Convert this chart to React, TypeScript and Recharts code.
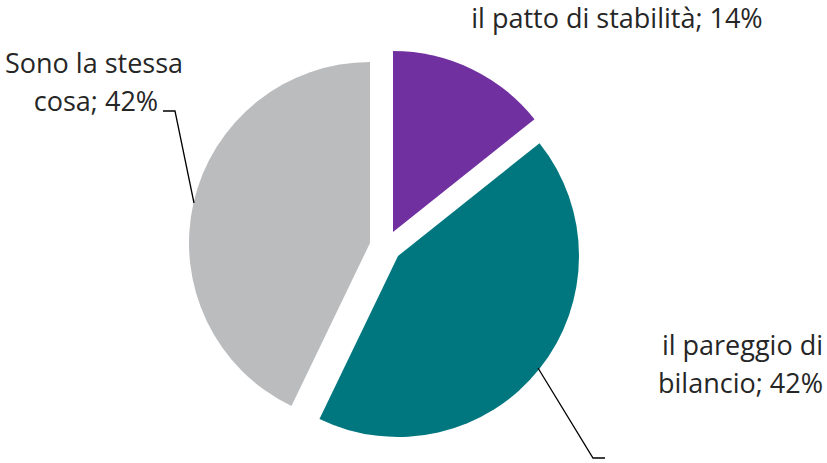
import { PieChart, Pie, Cell } from 'recharts';

const NAMES = ['il patto di stabilità', 'il pareggio di bilancio', 'Sono la stessa cosa'];
const VALUES = [14, 42, 42];
const COLORS = ['#7030a0', '#00777f', '#bbbcbe'];

// each slice is pulled out of the pie on its own
const CENTERS = [
  [393, 232],
  [398, 256],
  [370, 243],
];
const RADIUS = 181;

const data = NAMES.map((name, i) => ({ name, value: VALUES[i] }));

const textStyle = {
  fontFamily: '"Open Sans", sans-serif',
  fontSize: 27,
  fill: '#262626',
};

function renderLabel(index: number) {
  return (props: any) => {
    if (props.index !== index) return null;
    const item = data[index];
    if (index === 0) {
      return (
        <text x={617} y={28} textAnchor="middle" {...textStyle}>
          {`${item.name}; ${item.value}%`}
        </text>
      );
    }
    if (index === 1) {
      return (
        <g>
          <polyline points="538,368 593,458 605,458" fill="none" stroke="#000" strokeWidth={1.3} />
          <text x={823} y={355} textAnchor="end" {...textStyle}>il pareggio di</text>
          <text x={823} y={393} textAnchor="end" {...textStyle}>{`bilancio; ${item.value}%`}</text>
        </g>
      );
    }
    return (
      <g>
        <polyline points="194,203 175,111 163,111" fill="none" stroke="#000" strokeWidth={1.3} />
        <text x={94} y={73} textAnchor="middle" {...textStyle}>Sono la stessa</text>
        <text x={96} y={111} textAnchor="middle" {...textStyle}>{`cosa; ${item.value}%`}</text>
      </g>
    );
  };
}

export default function App() {
  return (
    <div style={{ position: 'absolute', left: 0, top: 0, width: 827, height: 463, background: '#fff' }}>
      <PieChart width={827} height={463} margin={{ top: 0, right: 0, bottom: 0, left: 0 }}>
        {CENTERS.map(([cx, cy], k) => (
          <Pie
            key={k}
            data={data}
            dataKey="value"
            nameKey="name"
            cx={cx}
            cy={cy}
            outerRadius={RADIUS}
            startAngle={90}
            endAngle={-270}
            stroke="none"
            isAnimationActive={false}
            labelLine={false}
            label={renderLabel(k)}
          >
            {data.map((_, i) => (
              <Cell key={i} fill={i === k ? COLORS[i] : 'none'} />
            ))}
          </Pie>
        ))}
      </PieChart>
    </div>
  );
}
